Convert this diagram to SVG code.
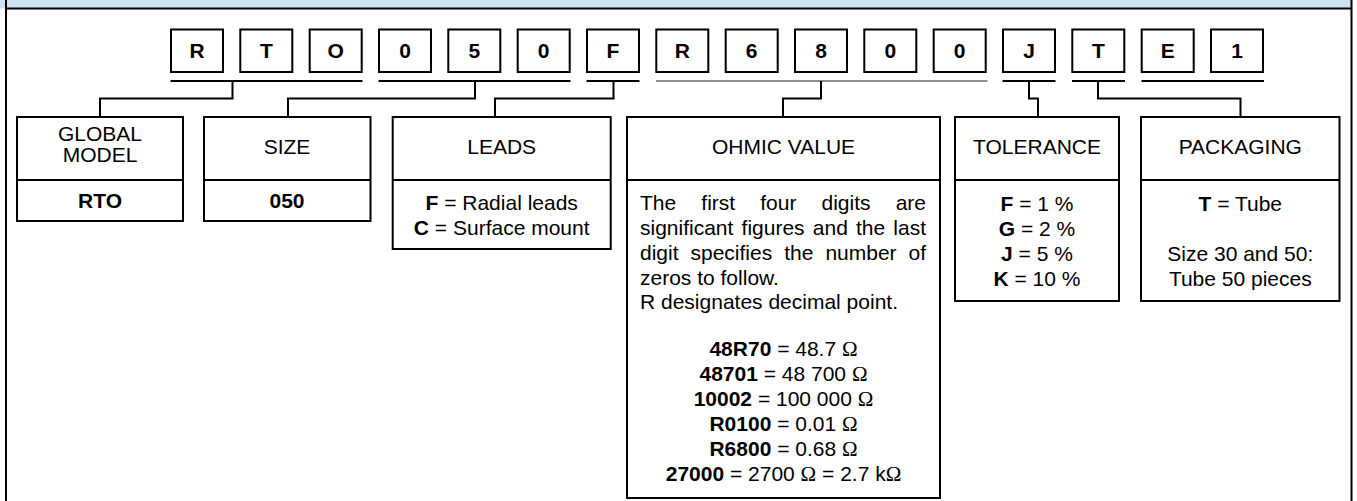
<svg xmlns="http://www.w3.org/2000/svg" width="1357" height="501" viewBox="0 0 1357 501">
<style>
  .frame{fill:none;stroke:#000;stroke-width:2}
  .box{fill:#fff;stroke:#000;stroke-width:2}
  .ln{fill:none;stroke:#000;stroke-width:2}
  .ch{font-family:"Liberation Sans",Arial,sans-serif;font-weight:bold;font-size:21px;text-anchor:middle;fill:#000}
  .hd{font-family:"Liberation Sans",Arial,sans-serif;font-size:21px;text-anchor:middle;fill:#000}
  .tx{font-family:"Liberation Sans",Arial,sans-serif;font-size:21px;fill:#000}
  .c{text-anchor:middle}
  .b{font-weight:bold}
  .om{font-family:"Liberation Serif","Times New Roman",serif}
</style>
<rect x="0" y="0" width="1352" height="8.5" fill="#cde3f1"/>
<path class="frame" d="M6 0V501M1351.5 0V501M6 8.5H1351.5"/>

<g id="code">
  <g class="box">
    <rect x="171" y="29.5" width="52" height="42.5"/>
    <rect x="240.3" y="29.5" width="52" height="42.5"/>
    <rect x="309.7" y="29.5" width="52" height="42.5"/>
    <rect x="379" y="29.5" width="52" height="42.5"/>
    <rect x="448.3" y="29.5" width="52" height="42.5"/>
    <rect x="517.7" y="29.5" width="52" height="42.5"/>
    <rect x="587" y="29.5" width="52" height="42.5"/>
    <rect x="656.3" y="29.5" width="52" height="42.5"/>
    <rect x="725.7" y="29.5" width="52" height="42.5"/>
    <rect x="795" y="29.5" width="52" height="42.5"/>
    <rect x="864.3" y="29.5" width="52" height="42.5"/>
    <rect x="933.7" y="29.5" width="52" height="42.5"/>
    <rect x="1003" y="29.5" width="52" height="42.5"/>
    <rect x="1072.3" y="29.5" width="52" height="42.5"/>
    <rect x="1141.7" y="29.5" width="52" height="42.5"/>
    <rect x="1211" y="29.5" width="52" height="42.5"/>
  </g>
  <text class="ch" x="197" y="58">R</text>
  <text class="ch" x="266.3" y="58">T</text>
  <text class="ch" x="335.7" y="58">O</text>
  <text class="ch" x="405" y="58">0</text>
  <text class="ch" x="474.3" y="58">5</text>
  <text class="ch" x="543.7" y="58">0</text>
  <text class="ch" x="613" y="58">F</text>
  <text class="ch" x="682.3" y="58">R</text>
  <text class="ch" x="751.7" y="58">6</text>
  <text class="ch" x="821" y="58">8</text>
  <text class="ch" x="890.3" y="58">0</text>
  <text class="ch" x="959.7" y="58">0</text>
  <text class="ch" x="1029" y="58">J</text>
  <text class="ch" x="1098.3" y="58">T</text>
  <text class="ch" x="1167.7" y="58">E</text>
  <text class="ch" x="1237" y="58">1</text>
</g>

<g id="connectors">
  <path class="ln" d="M170.5 81H362.5M378.5 81H570.5M586.5 81H639.5M1002.5 81H1055.5M1072 81H1125M1141.5 81H1264"/>
  <path fill="none" stroke="#6a6a6a" stroke-width="1.6" d="M656 81H987.5"/>
  <path class="ln" d="M232.5 81V98.5H100V117"/>
  <path class="ln" d="M475 81V98.5H288V117"/>
  <path class="ln" d="M613.5 81V98.5H495V117"/>
  <path class="ln" d="M821 81V98.5H783V117"/>
  <path class="ln" d="M1029 81V98.5H1038V117"/>
  <path class="ln" d="M1098 81V98.5H1240.5V117"/>
</g>

<g id="global-model">
  <rect class="box" x="17" y="117" width="166" height="104"/>
  <path class="ln" d="M17 180H183"/>
  <text class="hd" x="100" y="140.5">GLOBAL</text>
  <text class="hd" x="100" y="162">MODEL</text>
  <text class="tx c b" x="100" y="208">RTO</text>
</g>

<g id="size">
  <rect class="box" x="204" y="117" width="166.5" height="104"/>
  <path class="ln" d="M204 180H370.5"/>
  <text class="hd" x="287" y="154">SIZE</text>
  <text class="tx c b" x="287" y="208">050</text>
</g>

<g id="leads">
  <rect class="box" x="392.7" y="117" width="218" height="132"/>
  <path class="ln" d="M392.7 180H610.7"/>
  <text class="hd" x="501.7" y="154">LEADS</text>
  <text class="tx c" x="501.7" y="210"><tspan class="b">F</tspan> = Radial leads</text>
  <text class="tx c" x="501.7" y="235"><tspan class="b">C</tspan> = Surface mount</text>
</g>

<g id="ohmic-value">
  <rect class="box" x="627" y="117" width="313" height="381"/>
  <path class="ln" d="M627 180H940"/>
  <text class="hd" x="783.5" y="154">OHMIC VALUE</text>
  <text class="tx" y="210"><tspan x="640">The</tspan><tspan x="701.3">first</tspan><tspan x="760.2">four</tspan><tspan x="821.5">digits</tspan><tspan x="895.7">are</tspan></text>
  <text class="tx" y="235"><tspan x="640">significant</tspan><tspan x="741.6">figures</tspan><tspan x="812.8">and</tspan><tspan x="856">the</tspan><tspan x="893.3">last</tspan></text>
  <text class="tx" y="260"><tspan x="640">digit</tspan><tspan x="690.5">specifies</tspan><tspan x="784.2">the</tspan><tspan x="825.4">number</tspan><tspan x="908.5">of</tspan></text>
  <text class="tx" x="640" y="284.5">zeros to follow.</text>
  <text class="tx" x="640" y="309">R designates decimal point.</text>
  <text class="tx c" x="783.5" y="356"><tspan class="b">48R70</tspan> = 48.7 <tspan class="om">Ω</tspan></text>
  <text class="tx c" x="783.5" y="381"><tspan class="b">48701</tspan> = 48 700 <tspan class="om">Ω</tspan></text>
  <text class="tx c" x="783.5" y="406"><tspan class="b">10002</tspan> = 100 000 <tspan class="om">Ω</tspan></text>
  <text class="tx c" x="783.5" y="431"><tspan class="b">R0100</tspan> = 0.01 <tspan class="om">Ω</tspan></text>
  <text class="tx c" x="783.5" y="456"><tspan class="b">R6800</tspan> = 0.68 <tspan class="om">Ω</tspan></text>
  <text class="tx c" x="783.5" y="481"><tspan class="b">27000</tspan> = 2700 <tspan class="om">Ω</tspan> = 2.7 k<tspan class="om">Ω</tspan></text>
</g>

<g id="tolerance">
  <rect class="box" x="955" y="117" width="164" height="184"/>
  <path class="ln" d="M955 180H1119"/>
  <text class="hd" x="1037" y="154">TOLERANCE</text>
  <text class="tx c" x="1037" y="211"><tspan class="b">F</tspan> = 1 %</text>
  <text class="tx c" x="1037" y="236"><tspan class="b">G</tspan> = 2 %</text>
  <text class="tx c" x="1037" y="261"><tspan class="b">J</tspan> = 5 %</text>
  <text class="tx c" x="1037" y="286"><tspan class="b">K</tspan> = 10 %</text>
</g>

<g id="packaging">
  <rect class="box" x="1141" y="117" width="198.5" height="184"/>
  <path class="ln" d="M1141 180H1339.5"/>
  <text class="hd" x="1240.3" y="154">PACKAGING</text>
  <text class="tx c" x="1240.3" y="211"><tspan class="b">T</tspan> = Tube</text>
  <text class="tx c" x="1240.3" y="261">Size 30 and 50:</text>
  <text class="tx c" x="1240.3" y="286">Tube 50 pieces</text>
</g>
</svg>
